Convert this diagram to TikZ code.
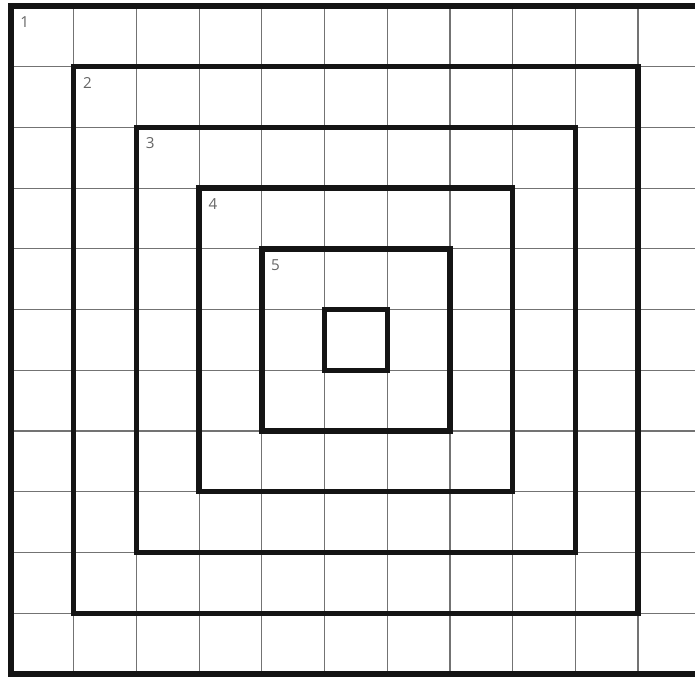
\documentclass[tikz,border=0pt]{standalone}
\usepackage{fontspec}
\setmainfont{Open Sans}
\begin{document}
\begin{tikzpicture}[x=0.5pt,y=-0.5pt]
\useasboundingbox (0,0) rectangle (695,676);
\fill[white] (0,0) rectangle (695,676);
\tikzset{
  gridline/.style={draw=black!55, line width=0.6pt},
  framebox/.style={draw=black!92, line width=2.7pt},
  framelabel/.style={anchor=north west, inner sep=0pt, text=black!60, font=\fontsize{7.6}{9}\selectfont, xshift=4.5pt, yshift=-5pt}
}
\begin{scope}[shift={(11,6)}, x=31.35pt, y=-30.36pt]
  \foreach \i in {1,...,11} \draw[gridline] (\i,0) -- (\i,11);
  \foreach \j in {1,...,10} \draw[gridline] (0,\j) -- (11.3,\j);
  \draw[framebox] (0,0) rectangle (11,11);
  \draw[framebox] (1,1) rectangle (10,10);
  \draw[framebox] (2,2) rectangle (9,9);
  \draw[framebox] (3,3) rectangle (8,8);
  \draw[framebox] (4,4) rectangle (7,7);
  \draw[framebox] (5,5) rectangle (6,6);
  \node[framelabel] (l1) at (0,0) {1};
  \node[framelabel] (l2) at (1,1) {2};
  \node[framelabel] (l3) at (2,2) {3};
  \node[framelabel] (l4) at (3,3) {4};
  \node[framelabel] (l5) at (4,4) {5};
\end{scope}
\end{tikzpicture}
\end{document}
